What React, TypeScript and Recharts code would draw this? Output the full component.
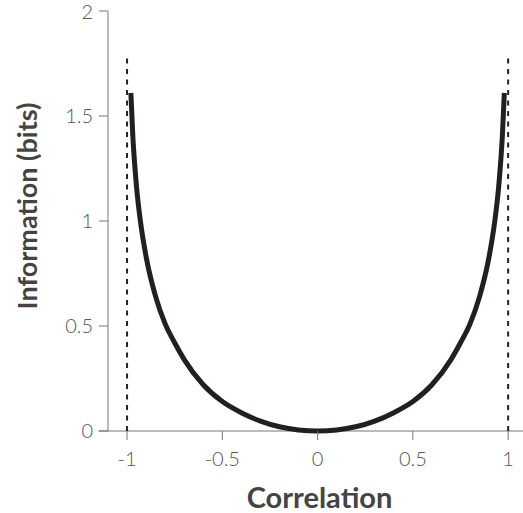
import React from "react";
import { LineChart, Line, XAxis, YAxis, ReferenceLine } from "recharts";

// correlation values and the information
const correlation = [
  -0.98, -0.97, -0.96, -0.95, -0.93, -0.9, -0.85, -0.8, -0.75, -0.7, -0.6, -0.5, -0.4, -0.3, -0.2, -0.1, 0,
  0.1, 0.2, 0.3, 0.4, 0.5, 0.6, 0.7, 0.75, 0.8, 0.85, 0.9, 0.93, 0.95, 0.96, 0.97, 0.98,
];
const information = [
  1.61, 1.41, 1.27, 1.16, 1.0, 0.83, 0.64, 0.51, 0.42, 0.34, 0.22, 0.14, 0.087, 0.047, 0.02, 0.005, 0,
  0.005, 0.02, 0.047, 0.087, 0.14, 0.22, 0.34, 0.42, 0.51, 0.64, 0.83, 1.0, 1.16, 1.27, 1.41, 1.61,
];
const xTicks = [-1, -0.5, 0, 0.5, 1];
const yTicks = [0, 0.5, 1, 1.5, 2];
const limits = [-1, 1];

const data = correlation.map((r, i) => ({ r, info: information[i] }));

const FONT = "Lato, 'Open Sans', sans-serif";
const tickStyle = { fontSize: 20, fontWeight: 300, fill: "#555", fontFamily: FONT };

const renderYLabel = (props: any) => {
  const vb = props.viewBox || { x: 0, y: 11, width: 108, height: 420 };
  const cx = vb.x + 37;
  const cy = vb.y + vb.height / 2 - 15;
  return (
    <text
      transform={`translate(${cx}, ${cy}) rotate(-90)`}
      textAnchor="middle"
      fontSize={27}
      fontWeight={700}
      fill="#444"
      fontFamily={FONT}
    >
      Information (bits)
    </text>
  );
};

export default function App() {
  return (
    <div style={{ position: "absolute", left: 0, top: 0 }}>
      <LineChart width={523} height={513} data={data} margin={{ top: 11, right: 0, bottom: 0, left: 0 }}>
        <XAxis
          type="number"
          dataKey="r"
          domain={[-1.1, 1.078]}
          ticks={xTicks}
          axisLine={false}
          tickLine={{ stroke: "#777" }}
          tickSize={9}
          tickMargin={12}
          height={82}
          tick={tickStyle}
          label={{
            value: "Correlation",
            position: "insideBottom",
            offset: 5,
            dx: 4,
            style: { fontSize: 29, fontWeight: 700, fill: "#444", fontFamily: FONT },
          }}
        />
        <YAxis
          type="number"
          domain={[0, 2]}
          ticks={yTicks}
          width={108}
          axisLine={{ stroke: "#777" }}
          tickLine={{ stroke: "#777" }}
          tickSize={9}
          tickMargin={6}
          tick={tickStyle}
          label={renderYLabel}
        />
        <ReferenceLine
          segment={[
            { x: -1.15, y: 0 },
            { x: 1.078, y: 0 },
          ]}
          stroke="#777"
          ifOverflow="visible"
        />
        {limits.map((v) => (
          <ReferenceLine
            key={v}
            segment={[
              { x: v, y: 0 },
              { x: v, y: 1.8 },
            ]}
            stroke="#222"
            strokeWidth={2}
            strokeDasharray="5 5.5"
          />
        ))}
        <Line
          type="monotone"
          dataKey="info"
          stroke="#231f20"
          strokeWidth={5}
          dot={false}
          isAnimationActive={false}
        />
      </LineChart>
    </div>
  );
}
